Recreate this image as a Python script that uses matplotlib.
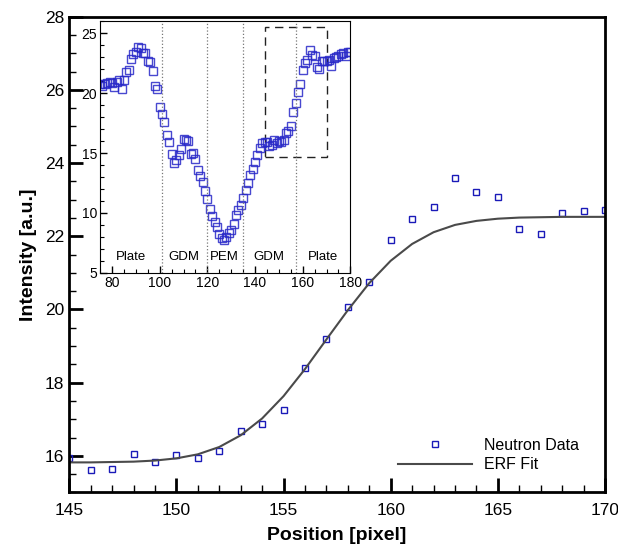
import matplotlib
matplotlib.use('Agg')
import matplotlib.pyplot as plt
from matplotlib.ticker import MultipleLocator
from matplotlib.patches import Rectangle

plt.rcParams['font.family'] = ['Liberation Sans', 'DejaVu Sans']

# main plot: neutron data around the edge, 145..170 px
pos = list(range(145, 171))
intensity = [15.94, 15.61, 15.63, 16.06, 15.84, 16.01, 15.94, 16.12, 16.68, 16.86,
             17.25, 18.41, 19.18, 20.08, 20.76, 21.91, 22.47, 22.80, 23.58, 23.20,
             23.07, 22.20, 22.05, 22.64, 22.68, 22.71]
fit = [15.82, 15.82, 15.83, 15.84, 15.87, 15.93, 16.04, 16.24, 16.56, 17.02,
       17.63, 18.37, 19.18, 19.98, 20.72, 21.33, 21.79, 22.11, 22.31, 22.42,
       22.48, 22.51, 22.52, 22.53, 22.53, 22.53]

# inset: full profile 75..180 px
prof_pos = list(range(75, 181))
prof_left = [20.80, 20.57, 20.80, 20.85, 20.91, 20.85, 20.52, 20.96, 21.13, 20.35,
             21.07, 21.79, 21.96, 22.84, 23.28, 23.40, 23.84, 23.73, 23.34, 23.34,
             22.68, 22.62, 21.85, 20.63, 20.35, 18.80, 18.25, 17.59, 16.48, 15.93,
             14.88, 14.21, 14.38, 14.82, 15.32, 16.20, 16.09, 15.98, 14.93, 14.99,
             14.49, 13.55, 13.05, 12.55, 11.83, 11.17, 10.34, 9.73, 9.23, 8.84,
             8.24, 7.90, 7.74, 8.01, 8.29, 8.62, 9.07, 9.84, 10.28, 10.67,
             11.22, 11.94, 12.50, 13.16, 13.71, 14.27, 14.82, 15.43, 15.82, 15.93]
prof_right = [22.79, 22.29, 22.90, 23.01, 23.12, 23.23, 23.34, 23.06, 23.45, 23.40]
prof = prof_left + intensity + prof_right

boundaries = [101, 120, 135, 157]
regions = ['Plate', 'GDM', 'PEM', 'GDM', 'Plate']
region_x = [88, 110.3, 127.3, 146, 168.3]

blue = '#1a1ab8'

fig = plt.figure(figsize=(6.18, 5.57), dpi=100)
ax = fig.add_axes([0.112, 0.116, 0.867, 0.854])

ax.plot(pos, intensity, 's', mfc='none', mec=blue, mew=1.0, ms=5, label='Neutron Data')
ax.plot(pos, fit, '-', color='#4a4a4a', lw=1.5, label='ERF Fit')

ax.set_xlim(145, 170)
ax.set_ylim(15, 28)
ax.xaxis.set_major_locator(MultipleLocator(5))
ax.xaxis.set_minor_locator(MultipleLocator(1))
ax.yaxis.set_major_locator(MultipleLocator(2))
ax.yaxis.set_minor_locator(MultipleLocator(0.5))
ax.tick_params(which='both', direction='in', top=False, right=False, labelsize=12.5)
ax.tick_params(which='major', length=10, width=2)
ax.tick_params(which='minor', length=5, width=1)
ax.tick_params(axis='x', pad=8)
for s in ax.spines.values():
    s.set_linewidth(2)
ax.set_xlabel('Position [pixel]', fontsize=14, fontweight='bold', labelpad=6)
ax.set_ylabel('Intensity [a.u.]', fontsize=14, fontweight='bold', labelpad=6)

ax.legend(loc='lower right', frameon=False, fontsize=11.5, handlelength=4.6,
          handletextpad=0.8, labelspacing=0.3, borderpad=0, borderaxespad=0,
          bbox_to_anchor=(0.952, 0.042))

# inset
ins = fig.add_axes([0.162, 0.51, 0.405, 0.452])
ins.plot(prof_pos, prof, 's', mfc='none', mec='#2828c8', mew=1.0, ms=5.5, alpha=0.85)
for b in boundaries:
    ins.axvline(b, color='#777777', ls=':', lw=0.9)
for name, xr in zip(regions, region_x):
    ins.text(xr, 6.3, name, ha='center', va='center', fontsize=9.5)
ins.add_patch(Rectangle((144, 14.7), 26, 10.85, fill=False, ls=(0, (6, 4)), lw=1.0, color='#222222'))
ins.set_xlim(75, 180)
ins.set_ylim(5, 26)
ins.xaxis.set_major_locator(MultipleLocator(20))
ins.xaxis.set_minor_locator(MultipleLocator(5))
ins.yaxis.set_major_locator(MultipleLocator(5))
ins.yaxis.set_minor_locator(MultipleLocator(1))
ins.tick_params(which='both', direction='in', top=False, right=False, labelsize=10, pad=2)
ins.tick_params(which='major', length=5, width=1)
ins.tick_params(which='minor', length=3, width=0.8)

fig.savefig('out.png', dpi=100)
